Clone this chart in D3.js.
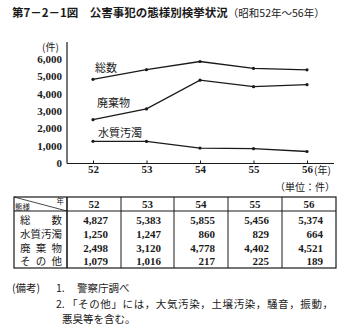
<!DOCTYPE html>
<html><head><meta charset="utf-8">
<script src="https://cdn.jsdelivr.net/npm/d3@7"></script>
<style>
html,body{margin:0;padding:0;background:#fff;}
svg{display:block;}
</style></head>
<body>
<script>
const years = [52, 53, 54, 55, 56];
const yTicks = [0, 1000, 2000, 3000, 4000, 5000, 6000];
const seriesNames = ["総数", "水質汚濁", "廃棄物", "その他"];
const total = [4827, 5383, 5855, 5456, 5374];
const water = [1250, 1247, 860, 829, 664];
const waste = [2498, 3120, 4778, 4402, 4521];
const other = [1079, 1016, 217, 225, 189];
const rowLabels = ["総数", "水質汚濁", "廃棄物", "その他"];

const W = 345, H = 330;
const jp = "'Noto Sans CJK JP', sans-serif";
const num = "'Liberation Serif', 'DejaVu Serif', serif";
const ink = "#1a1a1a";

const svg = d3.select("body").append("svg").attr("width", W).attr("height", H);

// Title
const title = svg.append("text").attr("x", 12).attr("y", 17)
  .attr("font-family", jp).attr("font-size", 11.5).attr("fill", ink);
title.append("tspan").attr("font-weight", "bold").text("第7－2－1図　公害事犯の態様別検挙状況");
title.append("tspan").attr("font-size", 10.5).text("（昭和52年～56年）");

// Scales
const x = d3.scaleLinear().domain([52, 56]).range([93, 307]);
const y = d3.scaleLinear().domain([0, 6000]).range([163, 59]);

// Axes
const g = svg.append("g");
g.append("line").attr("x1", 67).attr("x2", 67).attr("y1", 42).attr("y2", 163.5)
  .attr("stroke", ink).attr("stroke-width", 1.2);
g.append("line").attr("x1", 67).attr("x2", 334).attr("y1", 163.5).attr("y2", 163.5)
  .attr("stroke", ink).attr("stroke-width", 1.2);

const yAxis = d3.axisLeft(y).tickValues(yTicks).tickSize(0).tickPadding(5)
  .tickFormat(d3.format(","));
const ya = svg.append("g").attr("transform", "translate(67,0)").call(yAxis);
ya.select(".domain").remove();
ya.selectAll("text").attr("font-family", num).attr("font-size", 11).attr("fill", ink)
  .attr("font-weight", "bold");

const xAxis = d3.axisBottom(x).tickValues(years).tickSize(-3).tickPadding(2)
  .tickFormat(d3.format("d"));
const xa = svg.append("g").attr("transform", "translate(0,163.5)").call(xAxis);
xa.select(".domain").remove();
xa.selectAll("line").attr("stroke", ink);
xa.selectAll("text").attr("font-family", num).attr("font-size", 11).attr("fill", ink)
  .attr("font-weight", "bold");

svg.append("text").attr("x", 42).attr("y", 51).attr("font-family", jp)
  .attr("font-size", 10).attr("fill", ink).text("(件)");
svg.append("text").attr("x", 314).attr("y", 174).attr("font-family", jp)
  .attr("font-size", 10).attr("fill", ink).text("(年)");

// Lines
const lineGen = d3.line().x((d, i) => x(years[i])).y(d => y(d));
const plotted = [
  {vals: total, label: seriesNames[0], lx: 95, ly: 72},
  {vals: waste, label: seriesNames[2], lx: 97, ly: 107},
  {vals: water, label: seriesNames[1], lx: 98, ly: 137}
];
plotted.forEach(s => {
  svg.append("path").attr("d", lineGen(s.vals)).attr("fill", "none")
    .attr("stroke", ink).attr("stroke-width", 1.3);
  svg.selectAll(null).data(s.vals).enter().append("circle")
    .attr("cx", (d, i) => x(years[i])).attr("cy", d => y(d)).attr("r", 1.6).attr("fill", ink);
  svg.append("text").attr("x", s.lx).attr("y", s.ly).attr("font-family", jp)
    .attr("font-size", 11).attr("fill", ink).text(s.label);
});

// Table
svg.append("text").attr("x", 335).attr("y", 191).attr("text-anchor", "end")
  .attr("font-family", jp).attr("font-size", 10).attr("fill", ink).text("（単位：件）");

const colX = [14, 67, 121, 174, 228, 282, 336];
const tTop = 197, hBot = 211, tBot = 268;
const rowY = [219.5, 233.5, 247.5, 261];
const t = svg.append("g").attr("stroke", ink).attr("fill", "none");
t.append("rect").attr("x", colX[0]).attr("y", tTop).attr("width", colX[6] - colX[0])
  .attr("height", tBot - tTop).attr("stroke-width", 1.2);
t.append("line").attr("x1", colX[0]).attr("x2", colX[6]).attr("y1", hBot).attr("y2", hBot)
  .attr("stroke-width", 1.2);
colX.slice(1, 6).forEach((cx, i) => {
  t.append("line").attr("x1", cx).attr("x2", cx).attr("y1", tTop).attr("y2", tBot)
    .attr("stroke-width", i === 0 ? 1.6 : 1);
});
t.append("line").attr("x1", colX[0]).attr("y1", tTop).attr("x2", colX[1]).attr("y2", hBot)
  .attr("stroke-width", 0.8);
svg.append("text").attr("x", 15).attr("y", 210).attr("font-family", jp).attr("font-size", 7.5)
  .attr("fill", ink).text("態様");
svg.append("text").attr("x", 64).attr("y", 204).attr("text-anchor", "end").attr("font-family", jp)
  .attr("font-size", 7.5).attr("fill", ink).text("年");

years.forEach((yr, i) => {
  svg.append("text").attr("x", (colX[i + 1] + colX[i + 2]) / 2).attr("y", 208)
    .attr("text-anchor", "middle").attr("font-family", num).attr("font-size", 11)
    .attr("font-weight", "bold").attr("fill", ink).text(yr);
});
const tableRows = [total, water, waste, other];
tableRows.forEach((row, r) => {
  svg.append("text").attr("x", 20).attr("y", rowY[r] + 4).attr("font-family", jp)
    .attr("font-size", 10.5).attr("fill", ink).attr("textLength", 42)
    .attr("lengthAdjust", "spacing").text(rowLabels[r]);
  row.forEach((v, i) => {
    svg.append("text").attr("x", colX[i + 2] - 13).attr("y", rowY[r] + 4)
      .attr("text-anchor", "end").attr("font-family", num).attr("font-size", 11)
      .attr("font-weight", "bold").attr("fill", ink).text(d3.format(",")(v));
  });
});

// Notes
const notes = svg.append("g").attr("font-family", jp).attr("font-size", 10.5).attr("fill", ink);
notes.append("text").attr("x", 12).attr("y", 292).text("(備考)");
notes.append("text").attr("x", 56).attr("y", 292).text("1.");
notes.append("text").attr("x", 77).attr("y", 292).text("警察庁調べ");
notes.append("text").attr("x", 56).attr("y", 308).text("2.");
notes.append("text").attr("x", 67).attr("y", 308).attr("textLength", 266)
  .attr("lengthAdjust", "spacing").text("「その他」には，大気汚染，土壌汚染，騒音，振動，");
notes.append("text").attr("x", 62).attr("y", 323).text("悪臭等を含む。");
</script>
</body></html>
